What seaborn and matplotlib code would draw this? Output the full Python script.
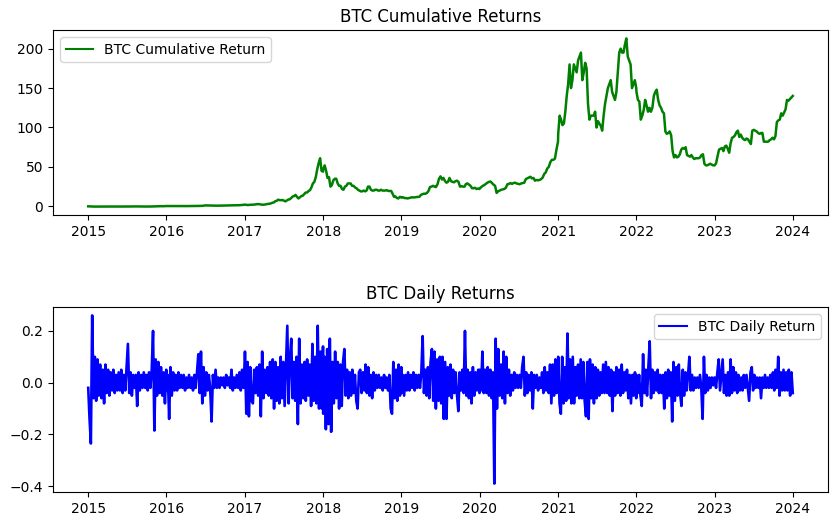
import numpy as np
import pandas as pd
import matplotlib
matplotlib.use("Agg")
import matplotlib.pyplot as plt
import seaborn as sns

# ---------------- cumulative return (BTC) per year ----------------
cum_2015 = [0.0, -0.15, -0.33, -0.3, -0.24, -0.22, -0.21, -0.27, -0.24, -0.29, -0.3, -0.27, -0.27,
            -0.25, -0.2, -0.1, -0.1, -0.2, -0.27, -0.26, -0.24, -0.22, -0.05, 0.05, 0.2, 0.14, 0.4]
cum_2016 = [0.37, 0.35, 0.2, 0.18, 0.22, 0.35, 0.33, 0.3, 0.32, 0.34, 0.35, 0.4, 0.45, 0.55, 0.7,
            1.2, 1.1, 1.1, 0.95, 0.82, 0.85, 0.9, 0.95, 1.05, 1.2, 1.25, 1.3, 1.35, 1.45, 1.7, 2.05]
cum_2017 = [2.2, 1.9, 1.6, 1.9, 2.0, 2.2, 2.2, 2.3, 2.7, 2.8, 2.7, 2.4, 2.0, 2.2, 2.3, 2.8, 3.0, 3.3,
            3.8, 4.5, 5.0, 6.5, 7.0, 8.5, 7.8, 7.8, 8.0, 7.2, 6.3, 7.5, 8.5, 9.0, 10.5, 12.5, 13.0,
            14.5, 12.0, 10.0, 11.5, 13.0, 13.5, 15.5, 17.5, 17.5, 19.5, 20.5, 24.0, 29.0, 31.0,
            37.0, 47.0, 55.0, 61.0, 45.0, 44.0]
cum_2018 = [47, 52, 45, 36, 37, 25, 27, 33, 35, 35, 29, 26, 26, 22, 21, 25, 26, 29, 29, 29, 26, 26,
            24, 23, 21, 20, 19, 19, 20, 19, 20, 25, 25, 21, 20, 20, 21, 21, 20, 20, 21, 20, 20, 20,
            20.5, 19.5, 19.5, 19.5, 16, 12, 12.5, 10.5, 10, 12, 11.5]
cum_2019 = [11.0, 11.5, 10.5, 10.5, 10.0, 10.5, 11.0, 11.5, 11.2, 11.5, 11.8, 12.0, 12.2, 14.5, 15.5,
            16.0, 16.0, 17.0, 19.5, 24.5, 25.0, 26.0, 25.0, 24.5, 28.0, 35.0, 38.0, 34.0, 36.0, 32.0,
            30.0, 31.0, 36.0, 32.0, 31.0, 30.5, 32.0, 32.5, 31.0, 25.0, 25.5, 25.0, 25.0, 28.5, 29.0,
            27.5, 26.0, 23.0, 23.0, 23.5, 22.0, 22.5, 22.0]
cum_2020 = [22.5, 24.5, 26.0, 27.0, 28.5, 30.0, 31.0, 31.5, 29.5, 27.5, 26.0, 17.0, 19.0, 20.0, 21.0,
            21.5, 22.0, 23.5, 28.0, 28.5, 29.5, 28.5, 29.5, 30.0, 29.0, 28.5, 28.0, 29.0, 29.5, 30.0,
            34.5, 35.5, 36.5, 37.5, 35.5, 36.0, 32.5, 33.5, 33.0, 33.5, 34.5, 36.5, 41.0, 43.0, 48.0,
            50.0, 56.0, 59.0, 59.0, 60.5, 72.0, 82.0]
cum_2021 = [92, 115, 110, 103, 105, 120, 140, 155, 180, 150, 160, 180, 175, 170, 185, 190, 195, 160,
            170, 182, 175, 130, 110, 115, 115, 115, 120, 100, 108, 105, 102, 96, 115, 130, 140, 150,
            155, 160, 145, 140, 135, 145, 170, 195, 200, 195, 195, 205, 213, 190, 185, 180, 150,
            155, 160, 150]
cum_2022 = [145, 135, 133, 110, 115, 122, 135, 128, 120, 125, 120, 125, 140, 145, 148, 135, 128, 125,
            120, 118, 95, 92, 93, 95, 90, 70, 62, 65, 62, 63, 66, 72, 74, 73, 75, 65, 64, 63, 65, 62,
            60, 61, 61, 61, 62, 65, 66, 54, 52, 52, 53, 54, 53, 52, 52]
cum_2023 = [52, 55, 64, 72, 73, 74, 70, 76, 77, 73, 68, 80, 87, 88, 90, 94, 96, 88, 91, 87, 85, 84, 86,
            85, 82, 79, 96, 97, 96, 95, 93, 92, 93, 93, 82, 82, 82, 82, 84, 85, 87, 85, 89, 107, 109,
            110, 118, 115, 119, 123, 135, 134, 136, 138, 140]

# ---------------- daily return (BTC) per year ----------------
ret_2015 = [-0.02, -0.14, -0.235, 0.26, -0.06, 0.10, -0.07, 0.09, -0.05, 0.07, -0.06, 0.05, -0.08, 0.07,
            -0.04, 0.05, -0.05, 0.04, -0.03, 0.05, -0.04, 0.03, -0.03, 0.04, -0.03, 0.05, -0.04, 0.03,
            -0.03, 0.06, 0.15, -0.04, 0.04, -0.05, 0.03, -0.02, 0.03, -0.09, 0.04, -0.03, 0.03, -0.02,
            0.04, -0.02, 0.03, -0.03, 0.04, -0.02, 0.05, 0.20, -0.185, 0.09, -0.05, 0.08, -0.04, 0.06,
            -0.05, 0.04, -0.08, 0.05]
ret_2016 = [-0.03, 0.03, -0.14, 0.06, -0.05, 0.04, -0.03, 0.03, -0.03, 0.04, -0.02, 0.03, -0.02, 0.03,
            -0.03, 0.02, -0.02, 0.03, -0.02, 0.02, -0.03, 0.03, -0.02, 0.04, 0.11, -0.04, 0.12, -0.08,
            0.06, -0.05, 0.04, -0.03, 0.03, -0.03, -0.15, 0.03, -0.02, 0.05, -0.02, 0.02, -0.02, 0.02,
            -0.01, 0.02, -0.02, 0.03, -0.01, 0.02, -0.02, 0.05, -0.03, 0.02, -0.02, 0.03, -0.02, 0.04,
            -0.03, 0.05, -0.02, 0.08]
ret_2017 = [0.12, -0.12, 0.08, -0.13, 0.06, -0.07, -0.08, 0.05, -0.04, 0.06, -0.05, 0.07, -0.13, 0.12,
            -0.06, 0.05, -0.04, 0.06, -0.05, 0.08, -0.06, 0.09, -0.10, 0.08, -0.07, 0.06, -0.08, 0.10,
            -0.06, 0.08, -0.09, 0.07, 0.22, -0.08, 0.09, 0.17, -0.06, 0.08, -0.07, 0.10, -0.16, 0.17,
            -0.08, 0.07, -0.06, 0.08, -0.07, 0.09, -0.05, 0.07, -0.09, 0.15, -0.07, 0.10, -0.08, 0.22,
            -0.10, 0.12, -0.10, 0.14]
ret_2018 = [-0.12, 0.10, -0.18, 0.13, -0.16, 0.17, -0.19, 0.08, -0.08, 0.12, -0.06, 0.08, -0.10, 0.07,
            -0.09, 0.08, 0.13, -0.05, 0.05, -0.06, 0.04, -0.05, 0.05, -0.04, 0.03, -0.07, -0.10, 0.04,
            0.05, -0.04, 0.04, -0.03, 0.07, -0.04, 0.06, -0.05, 0.03, -0.06, 0.04, -0.03, 0.03, -0.02,
            0.03, -0.02, 0.02, -0.03, 0.03, -0.02, 0.02, -0.03, 0.03, -0.10, -0.12, 0.08, -0.06, 0.05,
            -0.07, 0.07, -0.05, 0.06]
ret_2019 = [-0.04, 0.03, -0.05, 0.03, -0.03, 0.04, -0.03, 0.03, -0.02, 0.04, -0.03, 0.03, -0.02, 0.03,
            -0.02, 0.04, 0.18, -0.04, 0.05, -0.05, 0.06, -0.06, 0.08, 0.13, -0.07, 0.12, -0.10, 0.09,
            -0.07, 0.10, -0.08, 0.10, -0.14, 0.08, -0.14, 0.06, -0.05, 0.07, -0.06, 0.05, -0.04, 0.04,
            -0.05, -0.11, 0.04, -0.03, 0.05, -0.04, 0.20, -0.05, 0.05, -0.06, 0.04, -0.08, 0.06, -0.05,
            0.04, -0.03, 0.05, -0.04]
ret_2020 = [0.05, -0.03, 0.12, -0.04, 0.05, -0.04, 0.06, -0.05, 0.05, -0.06, 0.04, -0.39, 0.17, -0.10,
            0.13, -0.05, 0.07, -0.06, 0.12, -0.08, 0.10, -0.04, 0.05, -0.05, 0.03, -0.03, 0.04, -0.02,
            0.03, -0.02, 0.03, -0.02, 0.06, 0.10, -0.05, 0.04, -0.04, 0.03, -0.03, 0.04, -0.10, 0.03,
            -0.02, 0.03, -0.03, 0.02, -0.02, 0.04, -0.04, 0.06, -0.03, 0.04, -0.04, 0.07, -0.08, 0.07,
            -0.05, 0.09, -0.04, 0.06]
ret_2021 = [0.10, -0.08, -0.12, 0.10, -0.08, 0.06, -0.07, 0.19, -0.06, 0.09, -0.08, 0.10, -0.08, 0.06,
            -0.05, 0.07, -0.06, 0.09, -0.06, 0.08, -0.07, -0.13, 0.08, -0.14, 0.09, -0.06, 0.07, -0.08,
            0.06, -0.06, 0.05, -0.05, 0.04, -0.04, 0.07, -0.04, 0.08, -0.04, 0.06, -0.05, 0.05, -0.11,
            0.04, -0.05, 0.06, -0.04, 0.05, -0.05, 0.07, -0.04, 0.04, -0.03, 0.05, -0.06, 0.03, -0.08,
            0.03, -0.05, 0.04, -0.06]
ret_2022 = [0.03, -0.04, 0.03, -0.05, -0.09, 0.11, -0.04, 0.05, -0.05, 0.06, 0.16, -0.06, 0.05, -0.04,
            0.04, -0.03, 0.05, -0.04, 0.03, -0.04, 0.03, -0.10, 0.04, -0.06, 0.05, -0.05, 0.04, -0.15,
            0.08, -0.07, 0.06, -0.05, 0.07, -0.04, -0.09, 0.05, -0.05, 0.04, -0.03, 0.03, 0.10, -0.03,
            0.03, -0.03, 0.02, -0.02, 0.02, -0.02, 0.03, -0.02, -0.14, 0.10, -0.04, 0.03, -0.03, 0.02,
            -0.02, 0.02, -0.01, 0.02]
ret_2023 = [0.02, -0.02, 0.04, 0.09, -0.03, 0.03, 0.09, -0.04, 0.03, -0.05, 0.04, -0.05, 0.09, -0.04,
            0.06, -0.03, 0.04, -0.04, 0.03, -0.03, 0.02, -0.03, 0.03, -0.02, 0.03, -0.02, -0.07, 0.04,
            0.06, -0.03, 0.03, -0.02, 0.02, -0.02, 0.02, -0.06, 0.02, -0.02, 0.03, -0.02, 0.02, -0.02,
            0.03, -0.02, 0.04, -0.03, 0.05, -0.02, 0.10, -0.05, 0.04, -0.03, 0.05, -0.03, 0.04, -0.03,
            0.05, -0.05, 0.04, -0.04]

years = [2015, 2016, 2017, 2018, 2019, 2020, 2021, 2022, 2023]
cum_by_year = [cum_2015, cum_2016, cum_2017, cum_2018, cum_2019, cum_2020, cum_2021, cum_2022, cum_2023]
ret_by_year = [ret_2015, ret_2016, ret_2017, ret_2018, ret_2019, ret_2020, ret_2021, ret_2022, ret_2023]


def build(values_by_year):
    frames = []
    for y, vals in zip(years, values_by_year):
        d = pd.date_range(f"{y}-01-01", f"{y}-12-31", periods=len(vals))
        frames.append(pd.DataFrame({"Date": d, "value": vals}))
    return pd.concat(frames, ignore_index=True)


cum_df = build(cum_by_year)
ret_df = build(ret_by_year)

fig = plt.figure(figsize=(8.38, 5.26), dpi=100)
ax1 = fig.add_axes([53 / 838, 1 - 215 / 526, 775 / 838, 185 / 526])
ax2 = fig.add_axes([53 / 838, 1 - 492 / 526, 775 / 838, 185 / 526])

sns.lineplot(data=cum_df, x="Date", y="value", color="green", linewidth=1.8,
             label="BTC Cumulative Return", ax=ax1)
ax1.set_title("BTC Cumulative Returns")
ax1.set_xlabel("")
ax1.set_ylabel("")
ax1.legend(loc="upper left")
for line in ax1.get_legend().get_lines():
    line.set_linewidth(1.5)

sns.lineplot(data=ret_df, x="Date", y="value", color="blue", linewidth=1.9,
             label="BTC Daily Return", ax=ax2)
ax2.set_title("BTC Daily Returns")
ax2.set_xlabel("")
ax2.set_ylabel("")
ax2.legend(loc="upper right")
for line in ax2.get_legend().get_lines():
    line.set_linewidth(1.5)

fig.savefig("out.png", dpi=100)
